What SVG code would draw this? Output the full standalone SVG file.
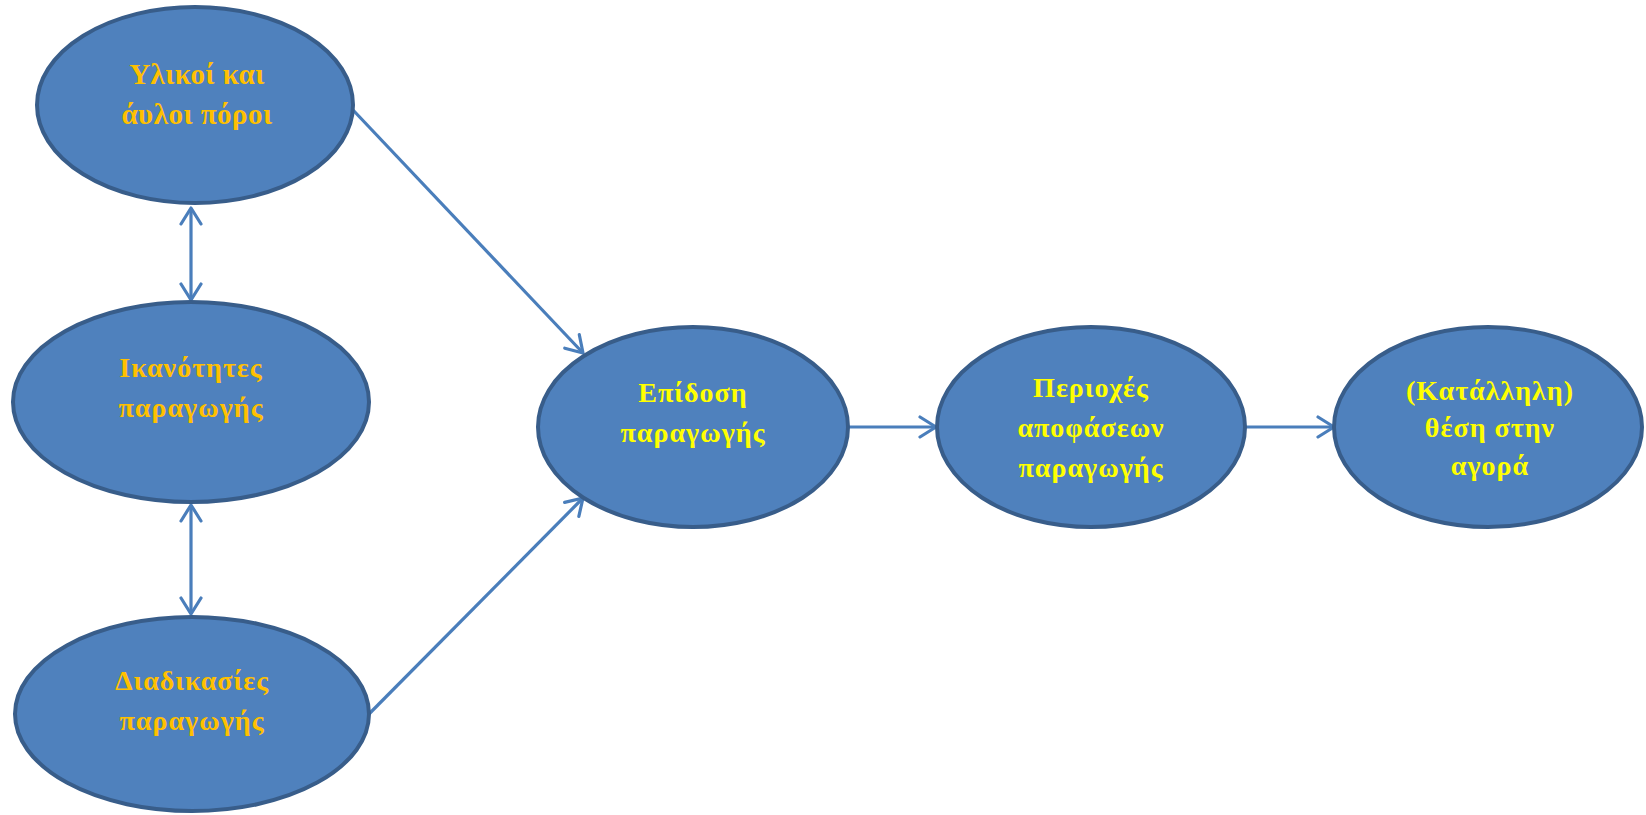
<svg xmlns="http://www.w3.org/2000/svg" width="1646" height="815" viewBox="0 0 1646 815">
<defs>
<marker id="arr" viewBox="0 0 24 24" refX="21" refY="12" markerWidth="24" markerHeight="24" markerUnits="userSpaceOnUse" orient="auto-start-reverse">
<path d="M5,2 L21,12 L5,22" fill="none" stroke="#4A7EBB" stroke-width="3.2" stroke-linecap="round" stroke-linejoin="round"/>
</marker>
<style>
.node{fill:#4F81BD;stroke:#385D8A;stroke-width:4}
.lbl{font-family:"Liberation Serif","Times New Roman",serif;font-weight:bold;font-size:28px;text-anchor:middle}
.big{font-size:29px;letter-spacing:0.5px}
.or{fill:#FFC000}
.ye{fill:#FFFF00}
.sp{letter-spacing:1px}
.conn{stroke:#4A7EBB;stroke-width:3.2;fill:none}
</style>
</defs>
<rect width="1646" height="815" fill="#FFFFFF"/>
<g id="connectors">
<line class="conn" x1="191" y1="208" x2="191" y2="300" marker-start="url(#arr)" marker-end="url(#arr)"/>
<line class="conn" x1="191" y1="505" x2="191" y2="614" marker-start="url(#arr)" marker-end="url(#arr)"/>
<line class="conn" x1="353" y1="110" x2="583" y2="353" marker-end="url(#arr)"/>
<line class="conn" x1="368" y1="715" x2="583" y2="498" marker-end="url(#arr)"/>
<line class="conn" x1="848" y1="427" x2="936" y2="427" marker-end="url(#arr)"/>
<line class="conn" x1="1245" y1="427" x2="1334" y2="427" marker-end="url(#arr)"/>
</g>
<g id="n1">
<ellipse class="node" cx="195" cy="105" rx="158" ry="98"/>
<text class="lbl big or" x="197" y="84">Υλικοί και</text>
<text class="lbl big or" x="197" y="124">άυλοι πόροι</text>
</g>
<g id="n2">
<ellipse class="node" cx="191" cy="402" rx="178" ry="100"/>
<text class="lbl or sp" x="191" y="377">Ικανότητες</text>
<text class="lbl or sp" x="191" y="417">παραγωγής</text>
</g>
<g id="n3">
<ellipse class="node" cx="192" cy="714" rx="177" ry="97"/>
<text class="lbl or sp" x="192" y="690">Διαδικασίες</text>
<text class="lbl or sp" x="192" y="730">παραγωγής</text>
</g>
<g id="n4">
<ellipse class="node" cx="693" cy="427" rx="155" ry="100"/>
<text class="lbl ye sp" x="693" y="402">Επίδοση</text>
<text class="lbl ye sp" x="693" y="442">παραγωγής</text>
</g>
<g id="n5">
<ellipse class="node" cx="1091" cy="427" rx="154" ry="100"/>
<text class="lbl ye sp" x="1091" y="397">Περιοχές</text>
<text class="lbl ye sp" x="1091" y="437">αποφάσεων</text>
<text class="lbl ye sp" x="1091" y="477">παραγωγής</text>
</g>
<g id="n6">
<ellipse class="node" cx="1488" cy="427" rx="154" ry="100"/>
<text class="lbl ye sp" x="1490" y="400">(Κατάλληλη)</text>
<text class="lbl ye sp" x="1490" y="437">θέση στην</text>
<text class="lbl ye sp" x="1490" y="475">αγορά</text>
</g>
</svg>
